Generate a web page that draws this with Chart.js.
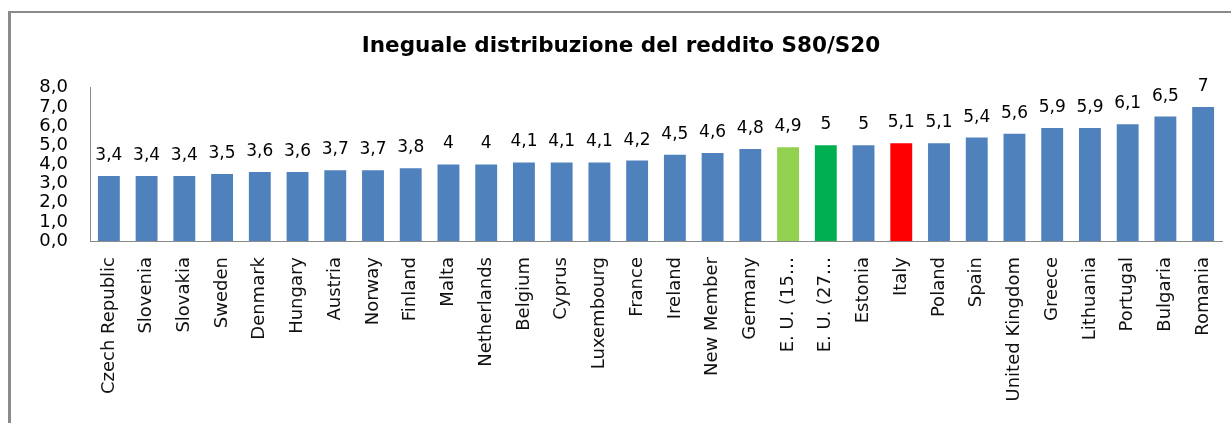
<!DOCTYPE html>
<html>
<head>
<meta charset="utf-8">
<script src="https://cdn.jsdelivr.net/npm/chart.js@4/dist/chart.umd.min.js"></script>
<style>
  html, body { margin: 0; padding: 0; background: #fff; }
  #wrap { position: relative; width: 1231px; height: 423px; overflow: hidden; }
  #frame {
    position: absolute; left: 8px; top: 11px; width: 1400px; height: 600px;
    border-left: 3px solid #8a8a8a; border-top: 2px solid #8a8a8a;
  }
  #box { position: absolute; left: 0; top: 0; width: 1231px; height: 423px; }
</style>
</head>
<body>
<div id="wrap">
  <div id="frame"></div>
  <div id="box"><canvas id="chart"></canvas></div>
</div>
<script>
const countries = [
  "Czech Republic", "Slovenia", "Slovakia", "Sweden", "Denmark", "Hungary",
  "Austria", "Norway", "Finland", "Malta", "Netherlands", "Belgium", "Cyprus",
  "Luxembourg", "France", "Ireland", "New Member", "Germany", "E. U. (15…",
  "E. U. (27…", "Estonia", "Italy", "Poland", "Spain", "United Kingdom",
  "Greece", "Lithuania", "Portugal", "Bulgaria", "Romania"
];
const s80s20 = [
  3.4, 3.4, 3.4, 3.5, 3.6, 3.6, 3.7, 3.7, 3.8, 4, 4, 4.1, 4.1, 4.1, 4.2,
  4.5, 4.6, 4.8, 4.9, 5, 5, 5.1, 5.1, 5.4, 5.6, 5.9, 5.9, 6.1, 6.5, 7
];
const highlight = { "E. U. (15…": "#92D050", "E. U. (27…": "#00B050", "Italy": "#FF0000" };

const barColors = countries.map((c) => highlight[c] || "#4F81BD");

// etichette sopra le barre
const valueLabels = {
  id: "valueLabels",
  afterDatasetsDraw(chart) {
    const ctx = chart.ctx;
    const meta = chart.getDatasetMeta(0);
    ctx.save();
    ctx.font = "17px 'DejaVu Sans'";
    ctx.fillStyle = "#000";
    ctx.textAlign = "center";
    ctx.textBaseline = "alphabetic";
    meta.data.forEach((bar, i) => {
      const txt = String(s80s20[i]).replace(".", ",");
      ctx.fillText(txt, bar.x, bar.y - 16);
    });
    ctx.restore();
  },
};

new Chart(document.getElementById("chart"), {
  type: "bar",
  data: {
    labels: countries,
    datasets: [
      {
        data: s80s20,
        backgroundColor: barColors,
        categoryPercentage: 1,
        barPercentage: 0.58,
      },
    ],
  },
  options: {
    responsive: true,
    maintainAspectRatio: false,
    animation: false,
    layout: { padding: { left: 20, right: 9, top: 10, bottom: 0 } },
    plugins: {
      legend: { display: false },
      tooltip: { enabled: false },
      title: {
        display: true,
        text: "Ineguale distribuzione del reddito S80/S20",
        color: "#000",
        font: { family: "'DejaVu Sans'", size: 21.5, weight: "bold" },
        padding: { top: 24, bottom: 28 },
      },
    },
    scales: {
      x: {
        grid: { display: false, drawTicks: false },
        border: { display: true, color: "#8a8a8a" },
        ticks: {
          autoSkip: false,
          maxRotation: 90,
          minRotation: 90,
          padding: 16,
          color: "#111",
          font: { family: "'DejaVu Sans'", size: 18 },
        },
        afterFit(scale) {
          scale.height = 182;
          scale.paddingLeft = 0;
          scale.paddingRight = 0;
        },
      },
      y: {
        min: 0,
        max: 8,
        grid: { display: false, drawTicks: false },
        border: { display: true, color: "#8a8a8a" },
        ticks: {
          stepSize: 1,
          autoSkip: false,
          padding: 22,
          color: "#000",
          font: { family: "'DejaVu Sans'", size: 18, lineHeight: 1 },
          callback: (v) => v.toFixed(1).replace(".", ","),
        },
        afterFit(scale) {
          scale.width = 70;
        },
      },
    },
  },
  plugins: [valueLabels],
});
</script>
</body>
</html>
